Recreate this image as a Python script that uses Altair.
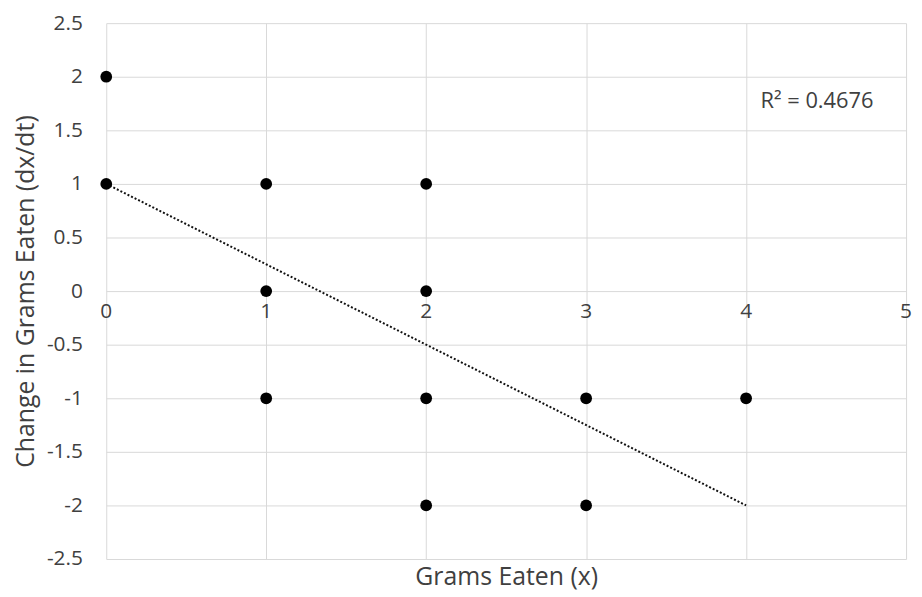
import altair as alt
import pandas as pd

# Data
grams_x = [0, 0, 1, 1, 1, 2, 2, 2, 2, 3, 3, 4]
change_y = [2, 1, 1, 0, -1, 1, 0, -1, -2, -1, -2, -1]

trend_x = [0, 4]
trend_y = [1.0, -2.0]

x_ticks = [0, 1, 2, 3, 4, 5]
y_ticks = [-2.5, -2, -1.5, -1, -0.5, 0, 0.5, 1, 1.5, 2, 2.5]

r2_label = ["R² = 0.4676"]
r2_pos_x = [4.09]
r2_pos_y = [1.77]

FONT = "Open Sans"
GRID = "#d9d9d9"
TXT = "#404040"

pts = pd.DataFrame({"x": grams_x, "y": change_y})
trend = pd.DataFrame({"x": trend_x, "y": trend_y})
xt = pd.DataFrame({"x": x_ticks, "y": [0] * len(x_ticks), "lab": [str(v) for v in x_ticks]})
r2 = pd.DataFrame({"x": r2_pos_x, "y": r2_pos_y, "lab": r2_label})

xscale = alt.Scale(domain=[0, 5], nice=False, zero=False)
yscale = alt.Scale(domain=[-2.5, 2.5], nice=False, zero=False)

xenc = alt.X(
    "x:Q",
    scale=xscale,
    axis=alt.Axis(
        values=x_ticks,
        labels=False,
        ticks=False,
        domain=False,
        grid=True,
        gridColor=GRID,
        title="Grams Eaten (x)",
        titleFont=FONT,
        titleFontSize=25,
        titleFontWeight="normal",
        titleColor=TXT,
        titlePadding=6,
    ),
)
yenc = alt.Y(
    "y:Q",
    scale=yscale,
    axis=alt.Axis(
        values=y_ticks,
        labelExpr="'' + datum.value",
        ticks=False,
        domain=False,
        grid=True,
        gridColor=GRID,
        labelFont=FONT,
        labelFontSize=21,
        labelColor=TXT,
        labelPadding=24,
        title="Change in Grams Eaten (dx/dt)",
        titleFont=FONT,
        titleFontSize=25,
        titleFontWeight="normal",
        titleColor=TXT,
        titlePadding=8,
    ),
)

points = alt.Chart(pts).mark_circle(size=140, color="black", opacity=1).encode(x=xenc, y=yenc)

line = alt.Chart(trend).mark_line(color="#111111", strokeWidth=2, strokeDash=[2, 2]).encode(
    x=alt.X("x:Q", scale=xscale), y=alt.Y("y:Q", scale=yscale)
)

xlabels = alt.Chart(xt).mark_text(
    font=FONT, fontSize=21, color=TXT, baseline="top", align="center", dy=10
).encode(x=alt.X("x:Q", scale=xscale), y=alt.Y("y:Q", scale=yscale), text="lab:N")

r2text = alt.Chart(r2).mark_text(
    font=FONT, fontSize=22, color=TXT, baseline="middle", align="left"
).encode(x=alt.X("x:Q", scale=xscale), y=alt.Y("y:Q", scale=yscale), text="lab:N")

chart = (
    alt.layer(line, points, xlabels, r2text)
    .properties(
        width=806,
        height=540,
        background="white",
        autosize=alt.AutoSizeParams(type="none"),
        padding={"left": 99, "top": 13, "right": 8, "bottom": 35},
    )
    .configure_view(strokeWidth=0)
)

chart.save("out.html", embed_options={"renderer": "svg", "actions": False})
